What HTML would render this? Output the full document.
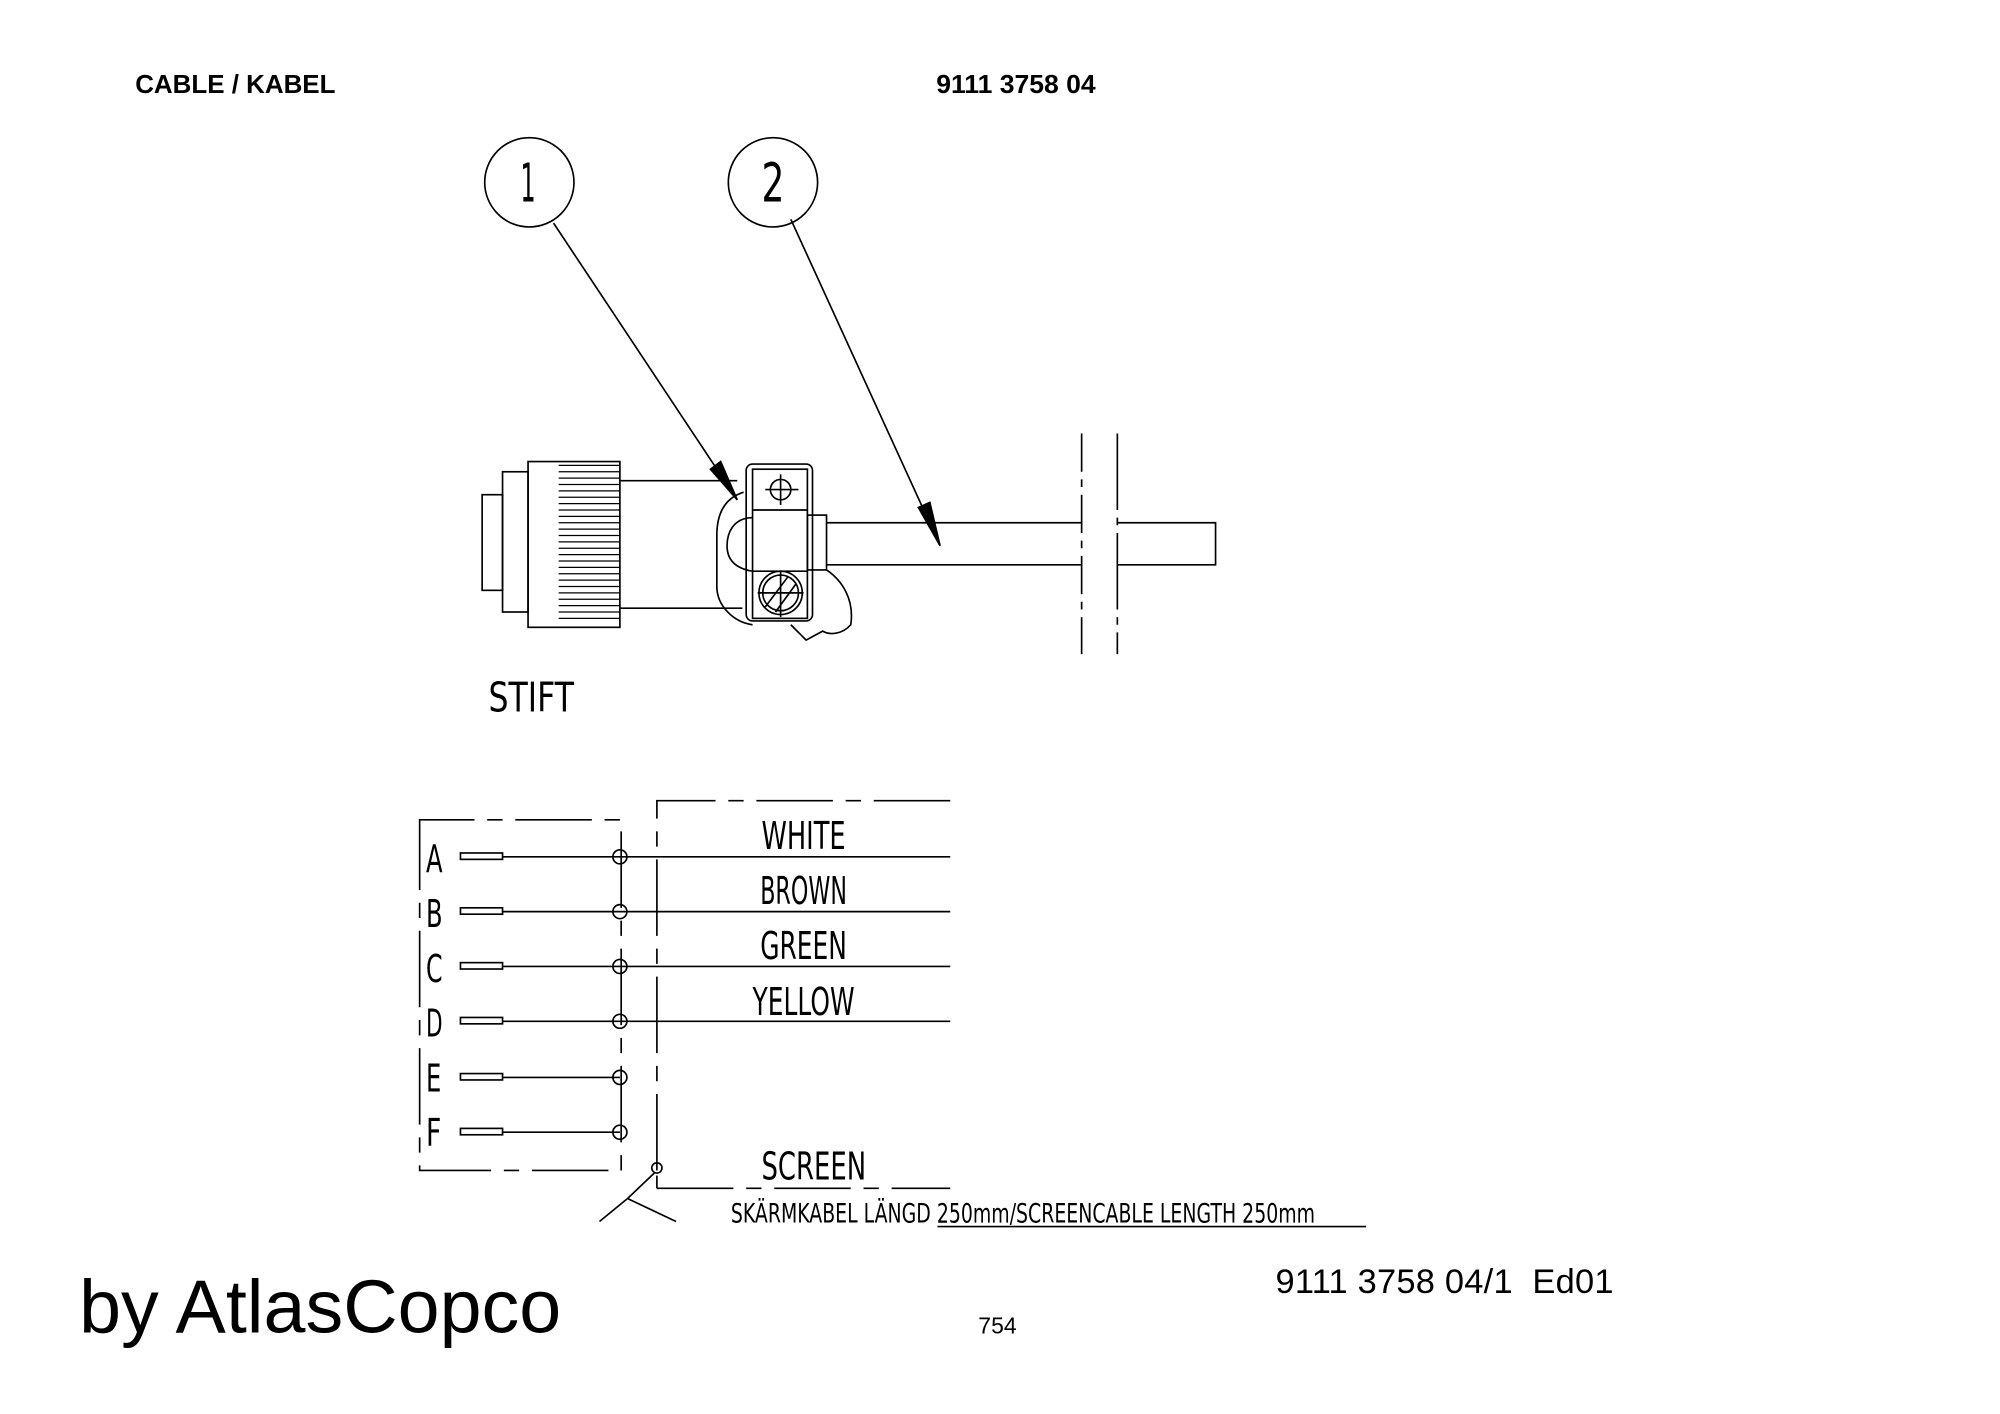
<!DOCTYPE html>
<html><head><meta charset="utf-8"><style>
html,body{margin:0;padding:0;background:#fff;}
svg{display:block;}
.cad{font-family:"DejaVu Sans","Liberation Sans",sans-serif;font-weight:normal;fill:#000;}
</style></head><body>
<svg width="2000" height="1414" viewBox="0 0 1568 1109" preserveAspectRatio="none" xmlns="http://www.w3.org/2000/svg">
<rect width="1568" height="1109" fill="#fff"/>
<g font-family="Liberation Sans, sans-serif" fill="#000">
<text x="106" y="73" font-size="20" font-weight="bold" textLength="157" lengthAdjust="spacingAndGlyphs">CABLE / KABEL</text>
<text x="734" y="73" font-size="20" font-weight="bold" textLength="125" lengthAdjust="spacingAndGlyphs">9111 3758 04</text>
<text x="62" y="1045" font-size="59" textLength="378" lengthAdjust="spacingAndGlyphs">by AtlasCopco</text>
<text x="1000" y="1014" font-size="27" textLength="265" lengthAdjust="spacing" xml:space="preserve">9111 3758 04/1  Ed01</text>
<text x="767" y="1046" font-size="18">754</text>
</g>
<g stroke="#000" fill="none" stroke-width="1.3">
<circle cx="415" cy="143" r="35"/>
<circle cx="606" cy="143" r="35"/>
<line x1="434" y1="175" x2="578" y2="392"/>
<line x1="620" y1="172" x2="737" y2="428"/>
<polygon points="578,392 557,368 565,362" fill="#000"/>
<polygon points="737,428 720,398 729,394" fill="#000"/>
<rect x="378" y="388" width="16" height="75"/>
<rect x="394" y="370" width="20" height="110"/>
<rect x="414" y="362" width="72" height="130"/>
<line x1="486" y1="377" x2="578" y2="377"/>
<line x1="486" y1="477" x2="582" y2="477"/>
<rect x="585" y="364" width="52" height="123" rx="5"/>
<rect x="590" y="368" width="43" height="117"/>
<line x1="590" y1="400" x2="633" y2="400"/>
<line x1="590" y1="448" x2="633" y2="448"/>
<circle cx="612" cy="384" r="8"/>
<line x1="600" y1="384" x2="626" y2="384"/><line x1="612" y1="372" x2="612" y2="396"/>
<circle cx="612" cy="465" r="17"/><circle cx="612" cy="465" r="14"/>
<line x1="594" y1="465" x2="630" y2="465"/><line x1="612" y1="448" x2="612" y2="484"/>
<line x1="600" y1="476" x2="618" y2="452"/><line x1="608" y1="480" x2="624" y2="458"/>
<path d="M583,386 C570,390 562,400 562,420 L562,460 C562,475 575,488 590,490"/>
<path d="M590,406 C575,406 570,418 570,428 C570,440 578,446 590,448"/>
<rect x="633" y="404" width="15" height="43"/>
<path d="M648,447 C660,455 670,470 667,490 C660,498 650,498 645,495 L632,502 L620,490"/>
<line x1="648" y1="410" x2="848" y2="410"/>
<line x1="648" y1="443" x2="848" y2="443"/>
<path d="M876,410 L953,410 L953,443 L876,443"/>
<line x1="848" y1="340" x2="848" y2="513" stroke-dasharray="30,6,6,6"/>
<line x1="876" y1="340" x2="876" y2="513" stroke-dasharray="60,6,6,6"/>
</g>
<g stroke="#000" stroke-width="1">
<line x1="438" y1="365" x2="486" y2="365"/><line x1="438" y1="370" x2="486" y2="370"/>
<line x1="438" y1="375" x2="486" y2="375"/><line x1="438" y1="380" x2="486" y2="380"/>
<line x1="438" y1="385" x2="486" y2="385"/><line x1="438" y1="390" x2="486" y2="390"/>
<line x1="438" y1="395" x2="486" y2="395"/><line x1="438" y1="400" x2="486" y2="400"/>
<line x1="438" y1="405" x2="486" y2="405"/><line x1="438" y1="410" x2="486" y2="410"/>
<line x1="438" y1="415" x2="486" y2="415"/><line x1="438" y1="420" x2="486" y2="420"/>
<line x1="438" y1="425" x2="486" y2="425"/><line x1="438" y1="430" x2="486" y2="430"/>
<line x1="438" y1="435" x2="486" y2="435"/><line x1="438" y1="440" x2="486" y2="440"/>
<line x1="438" y1="445" x2="486" y2="445"/><line x1="438" y1="450" x2="486" y2="450"/>
<line x1="438" y1="455" x2="486" y2="455"/><line x1="438" y1="460" x2="486" y2="460"/>
<line x1="438" y1="465" x2="486" y2="465"/><line x1="438" y1="470" x2="486" y2="470"/>
<line x1="438" y1="475" x2="486" y2="475"/><line x1="438" y1="480" x2="486" y2="480"/>
<line x1="438" y1="485" x2="486" y2="485"/>
</g>
<g class="cad">
<text x="414" y="158" text-anchor="middle" font-size="42" textLength="12" lengthAdjust="spacingAndGlyphs">1</text>
<text x="606" y="158" text-anchor="middle" font-size="42" textLength="18" lengthAdjust="spacingAndGlyphs">2</text>
<text x="383" y="558" font-size="32" textLength="67" lengthAdjust="spacingAndGlyphs">STIFT</text>
</g>
<g stroke="#000" fill="none" stroke-width="1.3">
<path d="M329,660 L329,643 L487,643 L487,918 L329,918 L329,660" stroke-dasharray="60,10,12,10"/>
<path d="M515,918 L515,628 L745,628" stroke-dasharray="60,10,12,10"/>
<line x1="515" y1="932" x2="745" y2="932" stroke-dasharray="60,10,12,10"/>
<line x1="515" y1="922" x2="515" y2="932"/>
<circle cx="515" cy="916" r="4"/>
<line x1="513" y1="920" x2="492" y2="940"/>
<line x1="492" y1="940" x2="470" y2="958"/>
<line x1="492" y1="940" x2="530" y2="958"/>
<line x1="735" y1="962" x2="1071" y2="962"/>
</g>
<g stroke="#000" fill="none" stroke-width="1.3">
<rect x="361" y="669" width="33" height="5"/><line x1="394" y1="672" x2="745" y2="672"/><circle cx="486" cy="672" r="5.5"/>
<rect x="361" y="712" width="33" height="5"/><line x1="394" y1="715" x2="745" y2="715"/><circle cx="486" cy="715" r="5.5"/>
<rect x="361" y="755" width="33" height="5"/><line x1="394" y1="758" x2="745" y2="758"/><circle cx="486" cy="758" r="5.5"/>
<rect x="361" y="798" width="33" height="5"/><line x1="394" y1="801" x2="745" y2="801"/><circle cx="486" cy="801" r="5.5"/>
<rect x="361" y="842" width="33" height="5"/><line x1="394" y1="845" x2="486" y2="845"/><circle cx="486" cy="845" r="5.5"/>
<rect x="361" y="885" width="33" height="5"/><line x1="394" y1="888" x2="486" y2="888"/><circle cx="486" cy="888" r="5.5"/>
</g>
<g class="cad" font-size="30">
<text x="334" y="684" textLength="13" lengthAdjust="spacingAndGlyphs">A</text>
<text x="334" y="727" textLength="13" lengthAdjust="spacingAndGlyphs">B</text>
<text x="334" y="770" textLength="13" lengthAdjust="spacingAndGlyphs">C</text>
<text x="334" y="813" textLength="13" lengthAdjust="spacingAndGlyphs">D</text>
<text x="334" y="856" textLength="12" lengthAdjust="spacingAndGlyphs">E</text>
<text x="334" y="899" textLength="12" lengthAdjust="spacingAndGlyphs">F</text>
<text x="597" y="666" textLength="66" lengthAdjust="spacingAndGlyphs">WHITE</text>
<text x="596" y="709" textLength="68" lengthAdjust="spacingAndGlyphs">BROWN</text>
<text x="596" y="752" textLength="68" lengthAdjust="spacingAndGlyphs">GREEN</text>
<text x="590" y="796" textLength="80" lengthAdjust="spacingAndGlyphs">YELLOW</text>
<text x="597" y="925" textLength="82" lengthAdjust="spacingAndGlyphs">SCREEN</text>
<text x="573" y="959" font-size="21" textLength="458" lengthAdjust="spacingAndGlyphs">SKÄRMKABEL LÄNGD 250mm/SCREENCABLE LENGTH 250mm</text>
</g>
</svg>
</body></html>
